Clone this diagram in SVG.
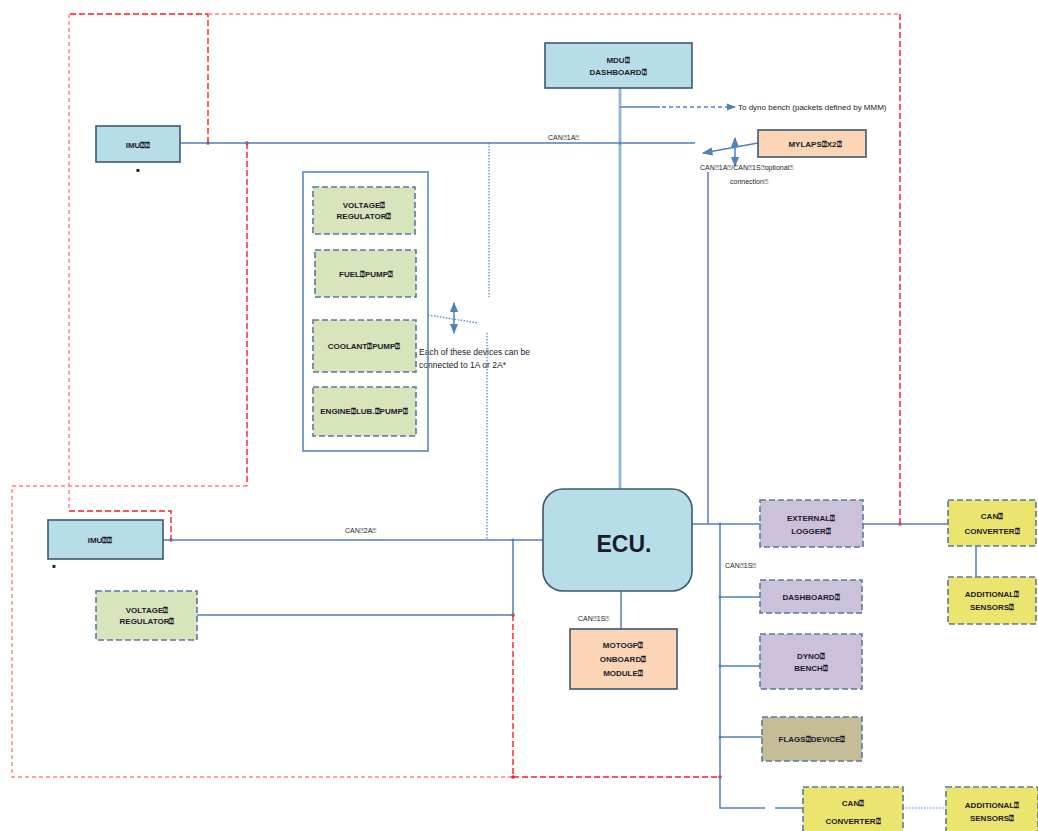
<svg xmlns="http://www.w3.org/2000/svg" width="1038" height="831" viewBox="0 0 1038 831">
<defs>
<style>
text{font-family:"Liberation Sans","DejaVu Sans",sans-serif;fill:#1a1a2a}
.lbl{font-size:8px;font-weight:bold;text-anchor:middle}
.small{font-size:7px}
.solid{stroke:#3f5870;stroke-width:1.6}
.dash{stroke:#5a78a0;stroke-width:1.6;stroke-dasharray:6,3}
.blue{fill:#b7dde8}
.green{fill:#d7e4bc}
.lav{fill:#ccc1da}
.yel{fill:#ebe570}
.org{fill:#fbd5b5}
.tan{fill:#c4bd97}
.bl{stroke:#4f81bd;stroke-width:1.5;fill:none}
.red{stroke:#ff1a1a;stroke-width:1.4;fill:none;stroke-dasharray:6,3}
.pink{stroke:#ff8080;stroke-width:1.4;fill:none;stroke-dasharray:4,3}
.dot{stroke:#4f81bd;stroke-width:1.2;fill:none;stroke-dasharray:1.5,1.5}
</style>
<marker id="ah" viewBox="0 0 10 10" refX="9" refY="5" markerWidth="7" markerHeight="7" orient="auto-start-reverse"><path d="M0,1 L10,5 L0,9 Z" fill="#4f81bd"/></marker>
</defs>
<rect width="1038" height="831" fill="#fff"/>
<g id="connectors">
<path class="red" d="M208,143 V14 H69"/>
<path class="pink" d="M69,14 V511"/>
<path class="red" d="M69,511 H171 V540"/>
<path class="pink" d="M208,14 H900"/>
<path class="red" d="M900,14 V524"/>
<path class="red" d="M247,143 V486"/>
<path class="pink" d="M247,486 H12 V777 H513"/>
<path class="red" d="M513,615 V777 H720"/>
<g fill="#ff1a1a"><circle cx="208" cy="143" r="1.8"/><circle cx="247" cy="143" r="1.8"/><circle cx="171" cy="540" r="1.8"/><circle cx="900" cy="524" r="1.8"/><circle cx="513" cy="615" r="1.8"/><circle cx="513" cy="777" r="1.8"/><circle cx="720" cy="777" r="1.8"/></g>
<path class="bl" d="M180,143 H695"/>
<path d="M620,88 V490" stroke="#9bb7dd" stroke-width="3" fill="none"/>
<path class="bl" d="M620,107 H660"/>
<path d="M662,107 H735" stroke="#4f81bd" stroke-width="1.3" stroke-dasharray="4,3" fill="none" marker-end="url(#ah)"/>
<path class="bl" d="M758,143 L703,153" marker-end="url(#ah)"/>
<path class="bl" d="M735,138 V166" marker-start="url(#ah)" marker-end="url(#ah)"/>
<path class="bl" d="M708,172 V524"/>
<path class="bl" d="M692,524 H760"/>
<path class="bl" d="M720,524 V808 H765"/>
<path class="bl" d="M720,597 H760 M720,666 H760 M720,737 H762"/>
<path class="bl" d="M775,808 H803"/>
<path class="bl" d="M863,524 H948"/>
<path class="bl" d="M976,546 V577"/>
<path class="dot" d="M903,808 H946"/>
<path class="bl" d="M621,591 V629"/>
<path class="bl" d="M163,540 H543"/>
<path class="bl" d="M513,540 V615 H197"/>
<g fill="#4f81bd"><circle cx="620" cy="143" r="1.5"/><circle cx="720" cy="597" r="1.5"/><circle cx="720" cy="666" r="1.5"/><circle cx="720" cy="737" r="1.5"/><circle cx="720" cy="524" r="1.5"/><circle cx="513" cy="540" r="1.5"/></g>
<path class="dot" d="M489,143 V297"/>
<path class="dot" d="M487,333 V540"/>
<path class="dot" d="M428,315 L478,323"/>
<path class="bl" d="M454,303 V333" marker-start="url(#ah)" marker-end="url(#ah)"/>
</g>
<g id="labels">
<text class="small" x="548" y="140">CAN⍰1A⍰</text>
<text class="small" x="345" y="533">CAN⍰2A⍰</text>
<text class="small" x="725" y="568">CAN⍰1S⍰</text>
<text class="small" x="578" y="621">CAN⍰1S⍰</text>
<text x="738" y="110" style="font-size:8px">To dyno bench (packets defined by MMM)</text>
<text class="small" x="700" y="170">CAN⍰1A⍰/CAN⍰1S⍰optional⍰</text>
<text class="small" x="730" y="184">connection⍰</text>
<text x="419" y="355" style="font-size:8.5px">Each of these devices can be</text>
<text x="419" y="368" style="font-size:8.5px">connected to 1A or 2A*</text>
</g>
<g id="mdu"><rect x="545" y="43" width="147" height="45" class="blue solid"/><text class="lbl" x="618" y="63">MDU⍰</text><text class="lbl" x="618" y="75">DASHBOARD⍰</text></g>
<g id="imu1"><rect x="96" y="126" width="84" height="36" class="blue solid"/><text class="lbl" x="138" y="148">IMU⍰⍰</text><text class="lbl" x="138" y="172" style="font-size:6px">■</text></g>
<g id="mylaps"><rect x="758" y="130" width="108" height="27" class="org solid"/><text class="lbl" x="815" y="147">MYLAPS⍰X2⍰</text></g>
<g id="group"><rect x="303" y="172" width="125" height="279" fill="none" stroke="#4f81bd" stroke-width="1.5"/></g>
<g id="vreg1"><rect x="313" y="187" width="102" height="47" class="green dash"/><text class="lbl" x="364" y="208">VOLTAGE⍰</text><text class="lbl" x="364" y="219">REGULATOR⍰</text></g>
<g id="fuel"><rect x="315" y="250" width="101" height="47" class="green dash"/><text class="lbl" x="366" y="277">FUEL⍰PUMP⍰</text></g>
<g id="coolant"><rect x="313" y="320" width="103" height="52" class="green dash"/><text class="lbl" x="364" y="349">COOLANT⍰PUMP⍰</text></g>
<g id="englub"><rect x="313" y="387" width="103" height="49" class="green dash"/><text class="lbl" x="364" y="414">ENGINE⍰LUB.⍰PUMP⍰</text></g>
<g id="ecu"><rect x="543" y="489" width="149" height="102" rx="20" class="blue solid"/><text x="624" y="552" style="font-size:23px;font-weight:bold;text-anchor:middle">ECU.</text></g>
<g id="imu2"><rect x="48" y="520" width="115" height="39" class="blue solid"/><text class="lbl" x="100" y="543">IMU⍰⍰</text><text class="lbl" x="54" y="568" style="font-size:6px">■</text></g>
<g id="vreg2"><rect x="96" y="591" width="101" height="49" class="green dash"/><text class="lbl" x="147" y="613">VOLTAGE⍰</text><text class="lbl" x="147" y="624">REGULATOR⍰</text></g>
<g id="motogp"><rect x="570" y="629" width="107" height="60" class="org solid"/><text class="lbl" x="623" y="648">MOTOGP⍰</text><text class="lbl" x="623" y="662">ONBOARD⍰</text><text class="lbl" x="623" y="676">MODULE⍰</text></g>
<g id="extlogger"><rect x="760" y="500" width="103" height="47" class="lav dash"/><text class="lbl" x="811" y="521">EXTERNAL⍰</text><text class="lbl" x="811" y="534">LOGGER⍰</text></g>
<g id="dash"><rect x="760" y="580" width="102" height="33" class="lav dash"/><text class="lbl" x="811" y="600">DASHBOARD⍰</text></g>
<g id="dyno"><rect x="760" y="634" width="102" height="55" class="lav dash"/><text class="lbl" x="811" y="659">DYNO⍰</text><text class="lbl" x="811" y="671">BENCH⍰</text></g>
<g id="flags"><rect x="762" y="717" width="100" height="44" class="tan dash"/><text class="lbl" x="812" y="742">FLAGS⍰DEVICE⍰</text></g>
<g id="canconv1"><rect x="948" y="500" width="88" height="46" class="yel dash"/><text class="lbl" x="992" y="519">CAN⍰</text><text class="lbl" x="992" y="534">CONVERTER⍰</text></g>
<g id="addsens1"><rect x="948" y="577" width="88" height="47" class="yel dash"/><text class="lbl" x="992" y="597">ADDITIONAL⍰</text><text class="lbl" x="992" y="610">SENSORS⍰</text></g>
<g id="canconv2"><rect x="803" y="787" width="100" height="48" class="yel dash"/><text class="lbl" x="853" y="806">CAN⍰</text><text class="lbl" x="853" y="824">CONVERTER⍰</text></g>
<g id="addsens2"><rect x="946" y="787" width="92" height="48" class="yel dash"/><text class="lbl" x="992" y="808">ADDITIONAL⍰</text><text class="lbl" x="992" y="821">SENSORS⍰</text></g>
</svg>
